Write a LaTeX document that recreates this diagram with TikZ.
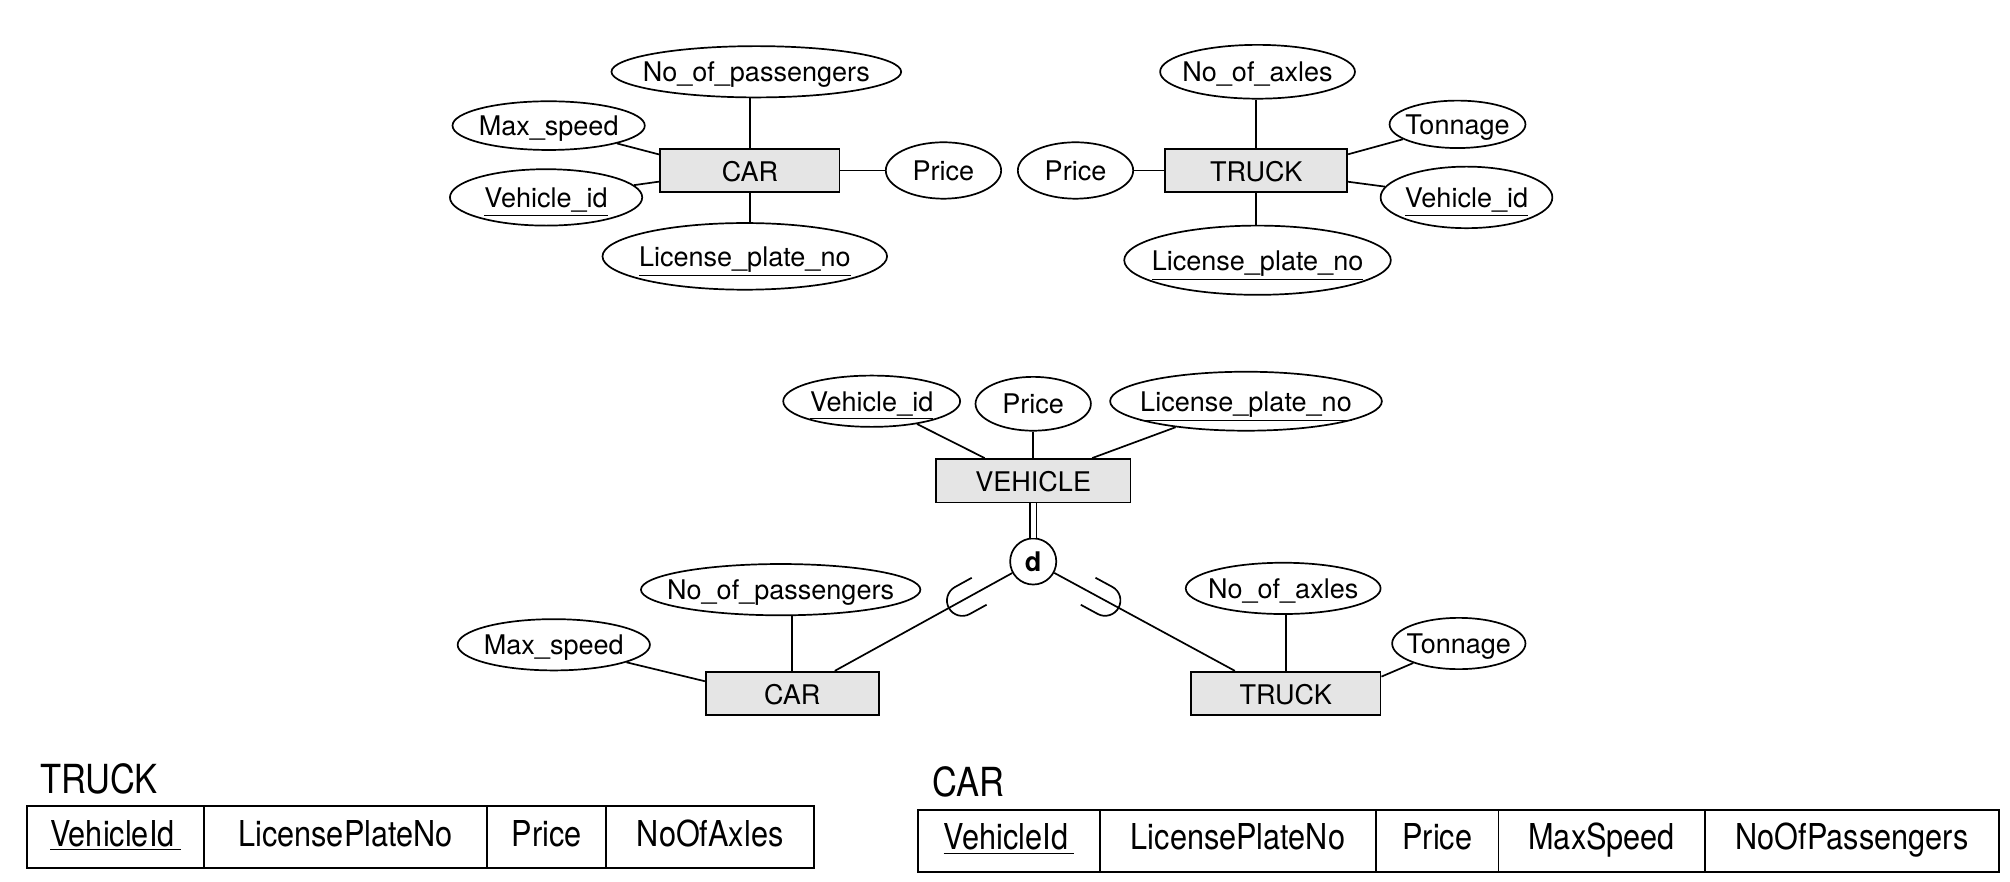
\documentclass[tikz,border=0pt]{standalone}
\usepackage{fontspec}
\setmainfont{TeX Gyre Heros}
\newfontfamily\tabfamily[FakeStretch=0.86]{TeX Gyre Heros}
\usetikzlibrary{shapes.geometric,decorations.markings}

\definecolor{entgray}{gray}{0.9}
\newcommand{\sk}{0.64pt}
\newcommand{\erfont}{\fontsize{13.5pt}{16pt}\selectfont}
\newcommand{\tabfont}{\tabfamily\fontsize{17.8pt}{20pt}\selectfont}
\newcommand{\relfont}{\tabfamily\fontsize{20pt}{23pt}\selectfont}
\newcommand{\lbl}[1]{\makebox[0pt]{#1}}
\newcommand{\key}[1]{\underline{#1}}
\newcommand{\tkey}[1]{\underline{#1\kern3pt}}

\tikzset{
  attr/.style 2 args={ellipse, draw, line width=0.85pt, inner sep=0pt,
    text height=12pt, text depth=2pt,
    minimum width=#1*\sk, minimum height=#2*\sk, font=\erfont},
  entity/.style 2 args={rectangle, draw, fill=entgray, line width=0.85pt,
    inner sep=0pt, text height=12pt, text depth=1.4pt,
    minimum width=#1*\sk, minimum height=#2*\sk, font=\erfont},
  cell/.style={rectangle, draw, line width=0.85pt, inner sep=0pt,
    text height=13.5pt, text depth=4.5pt, minimum height=48*\sk, font=\tabfont},
  link/.style={line width=0.85pt},
  subset/.style={postaction={decorate}, decoration={markings,
    mark=at position #1 with {\draw[line width=0.85pt] (15,12) -- (0,12)
      arc[start angle=90, end angle=270, radius=12] -- (15,-12);}}},
}

\begin{document}
\begin{tikzpicture}[x=\sk, y=-\sk]
  \useasboundingbox (0,0) rectangle (1568,688);

  % CAR on its own
  \node[entity={140}{34}] (tcar) at (585,133) {CAR};
  \node[attr={226}{40}] (tpass) at (590,56) {\lbl{No\_of\_passengers}};
  \node[attr={150}{38}] (tmax) at (428,98) {\lbl{Max\_speed}};
  \node[attr={150}{44}] (tvid) at (426,154) {\lbl{\key{Vehicle\_id}}};
  \node[attr={90}{44}] (tprice) at (736,133) {\lbl{Price}};
  \node[attr={222}{52}] (tlic) at (581,200) {\lbl{\key{License\_plate\_no}}};
  \draw[link] (tcar.north) -- (tcar.north |- tpass.south);
  \draw[link] (tcar.south) -- (tcar.south |- tlic.north);
  \draw[link] (tmax) -- (tcar.170);
  \draw[link] (tvid) -- (tcar.187);
  \draw[link] (tcar) -- (tprice);

  % TRUCK on its own
  \node[entity={142}{34}] (ttruck) at (980,133) {TRUCK};
  \node[attr={152}{42}] (taxl) at (981,56) {\lbl{No\_of\_axles}};
  \node[attr={106}{37}] (tton) at (1137,97) {\lbl{Tonnage}};
  \node[attr={90}{44}] (tprice2) at (839,133) {\lbl{Price}};
  \node[attr={134}{48}] (tvid2) at (1144,154) {\lbl{\key{Vehicle\_id}}};
  \node[attr={208}{54}] (tlic2) at (981,203) {\lbl{\key{License\_plate\_no}}};
  \draw[link] (ttruck.north) -- (ttruck.north |- taxl.south);
  \draw[link] (ttruck.south) -- (ttruck.south |- tlic2.north);
  \draw[link] (tprice2) -- (ttruck);
  \draw[link] (tton) -- (ttruck.10);
  \draw[link] (tvid2) -- (ttruck.353);

  % Generalisation VEHICLE
  \node[entity={152}{34}] (veh) at (806,375) {VEHICLE};
  \node[attr={138}{40}] (mvid) at (680,313) {\lbl{\key{Vehicle\_id}}};
  \node[attr={90}{42}] (mprice) at (806,315) {\lbl{Price}};
  \node[attr={212}{46}] (mlic) at (972,313) {\lbl{\key{License\_plate\_no}}};
  \node[circle, draw, line width=0.85pt, minimum size=36*\sk, inner sep=0pt,
    font=\erfont\bfseries] (dis) at (806,438) {d};
  \draw[link] (mvid) -- (veh.155);
  \draw[link] (mprice) -- (veh);
  \draw[link] (mlic) -- (veh.21);
  \draw[line width=0.75pt, double, double distance=2.6pt] (veh) -- (dis);

  % Subclasses
  \node[entity={135}{34}] (mcar) at (618,541) {CAR};
  \node[attr={218}{40}] (mpass) at (609,460) {\lbl{No\_of\_passengers}};
  \node[attr={150}{40}] (mmax) at (432,503) {\lbl{Max\_speed}};
  \node[entity={148}{34}] (mtruck) at (1003,541) {TRUCK};
  \node[attr={152}{40}] (maxl) at (1001,459) {\lbl{No\_of\_axles}};
  \node[attr={104}{40}] (mton) at (1138,502) {\lbl{Tonnage}};
  \draw[link, subset=0.72] (mcar.28) -- (dis);
  \draw[link, subset=0.72] (mtruck.156) -- (dis);
  \draw[link] (mcar.north) -- (mcar.north |- mpass.south);
  \draw[link] (mmax) -- (mcar.172);
  \draw[link] (mtruck.north) -- (mtruck.north |- maxl.south);
  \draw[link] (mton) -- (mtruck.10);

  % Relation TRUCK
  \node[anchor=base west, inner sep=0pt, font=\relfont] (rtruck) at (31,619) {TRUCK};
  \node[cell, minimum width=138*\sk] (tr1) at (90,653) {\tkey{VehicleId}};
  \node[cell, minimum width=221*\sk] (tr2) at (269.5,653) {LicensePlateNo};
  \node[cell, minimum width=93*\sk] (tr3) at (426.5,653) {Price};
  \node[cell, minimum width=162*\sk] (tr4) at (554,653) {NoOfAxles};

  % Relation CAR
  \node[anchor=base west, inner sep=0pt, font=\relfont] (rcar) at (727,621) {CAR};
  \node[cell, minimum width=142*\sk] (cr1) at (787,656) {\tkey{VehicleId}};
  \node[cell, minimum width=215.5*\sk] (cr2) at (965.75,656) {LicensePlateNo};
  \node[cell, minimum width=95.5*\sk] (cr3) at (1121.25,656) {Price};
  \node[cell, minimum width=161*\sk] (cr4) at (1249.5,656) {MaxSpeed};
  \node[cell, minimum width=229.5*\sk] (cr5) at (1444.75,656) {NoOfPassengers};
\end{tikzpicture}
\end{document}
